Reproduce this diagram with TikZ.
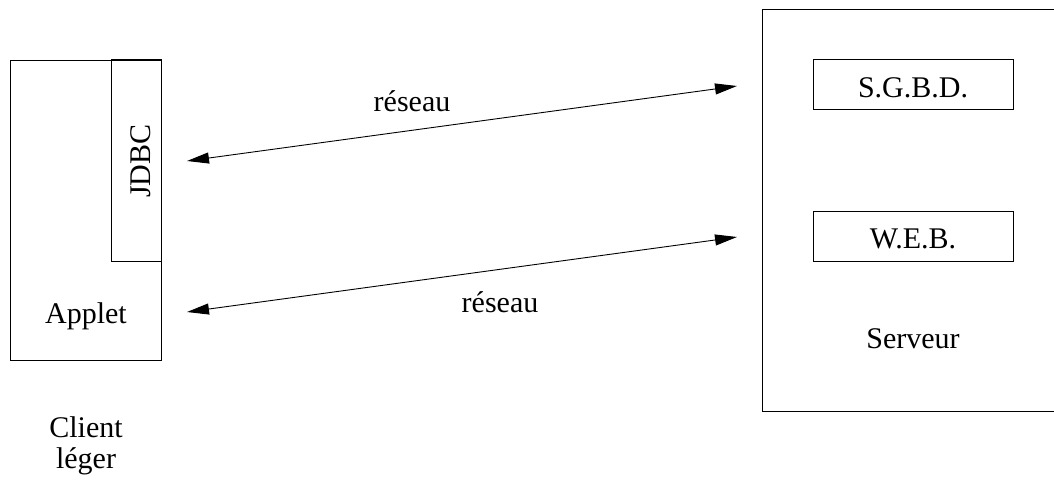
\documentclass[tikz,border=0pt]{standalone}
\usepackage{fontspec}
\setmainfont{Liberation Serif}
\usetikzlibrary{arrows.meta}
\begin{document}
\begin{tikzpicture}[x=1pt,y=-1pt,line width=1pt,
  box/.style={draw,inner sep=0pt},
  lbl/.style={inner sep=0pt,font=\fontsize{30}{36}\selectfont},
  link/.style={{Triangle[length=22pt,width=11pt]}-{Triangle[length=22pt,width=11pt]},line width=0.9pt}]
\useasboundingbox (0,0) rectangle (1054,481);
% client
\node[box,minimum width=151pt,minimum height=300pt] (client) at (85.5,210.5) {};
\node[box,minimum width=50pt,minimum height=201pt] (jdbc) at (136,160.5) {};
\node[lbl,anchor=base,rotate=90] (jdbct) at (150,161) {JDBC};
\node[lbl,anchor=base] (applet) at (86,323) {Applet};
\node[lbl,anchor=base] (client1) at (86,437) {Client};
\node[lbl,anchor=base] (client2) at (86,468) {léger};
% server
\draw (1054,10) -- (762,10) -- (762,411) -- (1054,411);
\node[box,minimum width=200pt,minimum height=50pt] (sgbd) at (913,85) {};
\node[lbl,anchor=base] (sgbdt) at (913,98) {S.G.B.D.};
\node[box,minimum width=200pt,minimum height=50pt] (web) at (913,236) {};
\node[lbl,anchor=base] (webt) at (913,248) {W.E.B.};
\node[lbl,anchor=base] (serveur) at (913,348) {Serveur};
% links
\coordinate (l1) at (187,161);
\coordinate (r1) at (737,86);
\coordinate (l2) at (187,312);
\coordinate (r2) at (737,237);
\draw[link] (l1) -- (r1);
\draw[link] (l2) -- (r2);
\node[lbl,anchor=base] (res1) at (412,112) {réseau};
\node[lbl,anchor=base] (res2) at (500,312) {réseau};
\end{tikzpicture}
\end{document}
